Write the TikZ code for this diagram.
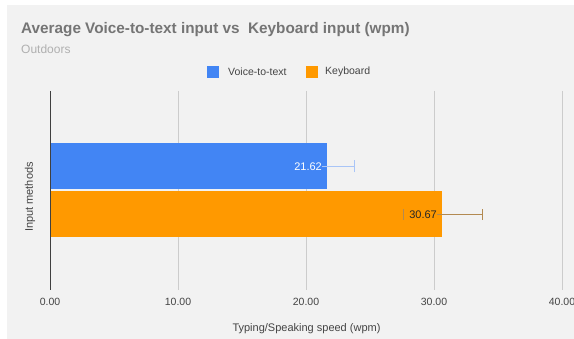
\documentclass[tikz,border=0pt]{standalone}
\usepackage{fontspec}
\setmainfont{Liberation Sans}
\definecolor{panel}{HTML}{F2F2F2}
\definecolor{vblue}{HTML}{4285F4}
\definecolor{korange}{HTML}{FF9900}
\definecolor{gridc}{HTML}{CCCCCC}
\definecolor{titlec}{HTML}{757575}
\definecolor{subc}{HTML}{B0B0B0}
\definecolor{txtc}{HTML}{444444}
\definecolor{errb}{HTML}{A9C5F7}
\definecolor{erro}{HTML}{B38A52}
\tikzset{
  bar/.style={inner sep=0pt, outer sep=0pt, anchor=west, draw=none},
  ticklab/.style={font=\fontsize{10.5}{12}\selectfont, text=txtc},
  gridline/.style={draw=gridc, line width=0.8pt},
  errline/.style={line width=0.9pt},
  legbox/.style={minimum size=12pt, inner sep=0pt},
  legtxt/.style={font=\fontsize{10.5}{12}\selectfont, text=txtc, anchor=west, inner sep=0pt}
}
\begin{document}
\begin{tikzpicture}[x=1pt,y=-1pt]
\useasboundingbox (0,0) rectangle (574,339);
\fill[white] (0,0) rectangle (574,339);
\fill[panel] (7,5) rectangle (574,339);
% title
\node[anchor=west, inner sep=0pt, text=titlec, font=\bfseries\fontsize{15.3}{17}\selectfont] (title) at (21,30) {Average Voice-to-text input vs\ \ Keyboard input (wpm)};
\node[anchor=west, inner sep=0pt, text=subc, font=\fontsize{12}{14}\selectfont] (sub) at (21,49) {Outdoors};
% legend
\node[legbox, fill=vblue] (lb) at (213,72) {};
\node[legtxt] (lbt) at (228,72) {Voice-to-text};
\node[legbox, fill=korange] (lo) at (311.5,72) {};
\node[legtxt] (lot) at (325,72) {Keyboard};
% grid
\foreach \k/\lab in {1/10.00,2/20.00,3/30.00,4/40.00}{
  \coordinate (gt\k) at ({50+128*\k},91);
  \coordinate (gb\k) at ({50+128*\k},290);
  \draw[gridline] (gt\k) -- (gb\k);
  \node[ticklab] (tl\k) at ({50+128*\k},302) {\lab};
}
\node[ticklab] (tl0) at (50,302) {0.00};
% bars
\node[bar, fill=vblue, minimum width=276.7pt, minimum height=46pt] (vb) at (50,166.3) {};
\node[bar, fill=korange, minimum width=392.3pt, minimum height=46pt] (kb) at (50,214.3) {};
% axis
\coordinate (at) at (50,91);
\coordinate (ab) at (50,290);
\draw[draw=black!75, line width=1pt] (at) -- (ab);
% value labels
\node[anchor=east, inner sep=0pt, text=white, font=\fontsize{11}{12}\selectfont] (vl) at (322,166.3) {21.62};
\node[anchor=east, inner sep=0pt, text=black!85, font=\fontsize{11}{12}\selectfont] (kl) at (437,214.3) {30.67};
% error bars
\coordinate (ve) at (354,166.3);
\draw[errline, errb] (vl.east) -- (ve);
\draw[errline, errb] ([yshift=-6pt]ve) -- ([yshift=6pt]ve);
\coordinate (ks) at (403,214.3);
\coordinate (ke) at (482,214.3);
\draw[errline, erro] (kl.east) -- (ke);
\draw[errline, erro] ([yshift=-5.5pt]ke) -- ([yshift=5.5pt]ke);
\draw[errline, erro] ([yshift=-5.5pt]ks) -- ([yshift=5.5pt]ks);
% axis titles
\node[rotate=90, inner sep=0pt, text=txtc, font=\fontsize{11}{12}\selectfont] (yt) at (30,197) {Input methods};
\node[inner sep=0pt, text=txtc, font=\fontsize{11}{12}\selectfont] (xt) at (306.5,329) {Typing/Speaking speed (wpm)};
\end{tikzpicture}
\end{document}
